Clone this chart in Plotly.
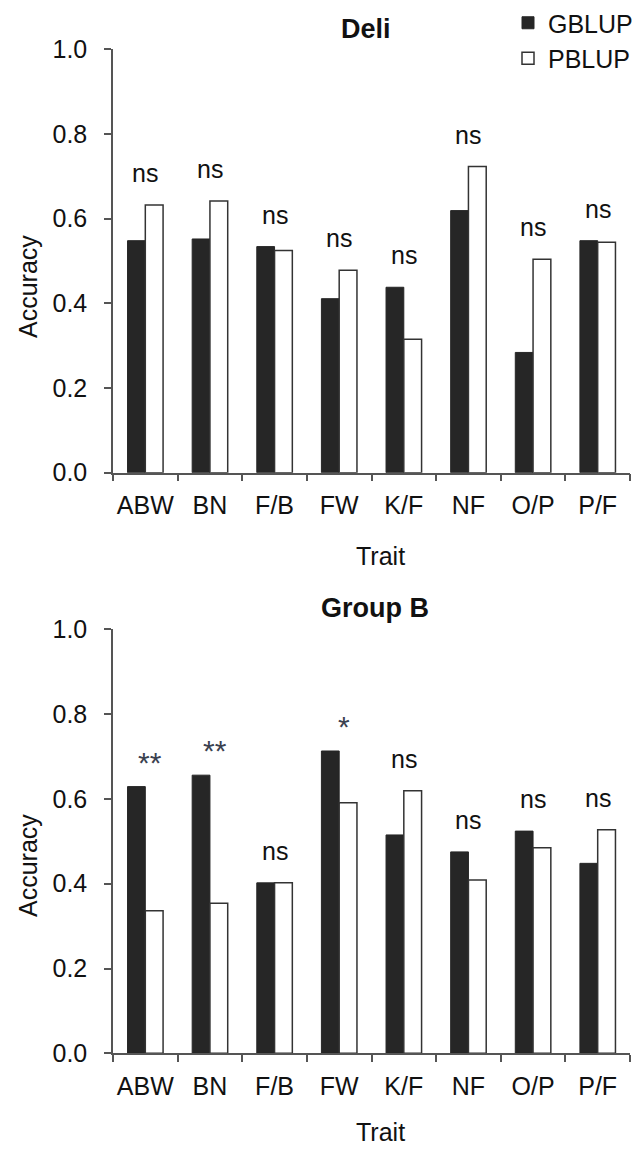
import plotly.graph_objects as go

# Trait categories shared by both panels
traits = ['ABW', 'BN', 'F/B', 'FW', 'K/F', 'NF', 'O/P', 'P/F']

# Deli panel accuracies
deli_gblup = [0.548, 0.552, 0.534, 0.411, 0.438, 0.619, 0.284, 0.548]
deli_pblup = [0.632, 0.642, 0.525, 0.478, 0.315, 0.723, 0.504, 0.544]
deli_sig = ['ns', 'ns', 'ns', 'ns', 'ns', 'ns', 'ns', 'ns']

# Group B panel accuracies
groupb_gblup = [0.629, 0.656, 0.402, 0.713, 0.515, 0.475, 0.524, 0.448]
groupb_pblup = [0.336, 0.354, 0.402, 0.591, 0.619, 0.409, 0.485, 0.527]
groupb_sig = ['**', '**', 'ns', '*', 'ns', 'ns', 'ns', 'ns']

W, H = 635, 1149
FONT = 'Arial, Liberation Sans, sans-serif'
DARK = '#262626'
AXIS = '#555555'


def px_x(px):
    # window pixel -> paper fraction
    return px / W


def px_y(px):
    return 1 - px / H


fig = go.Figure()

panels = [
    ('x', 'y', deli_gblup, deli_pblup, deli_sig, True),
    ('x2', 'y2', groupb_gblup, groupb_pblup, groupb_sig, False),
]

for xa, ya, gb, pb, sig, show in panels:
    fig.add_trace(go.Bar(
        x=traits, y=gb, name='GBLUP', xaxis=xa, yaxis=ya,
        marker=dict(color=DARK, line=dict(color=DARK, width=1)),
        legendgroup='g', showlegend=show,
    ))
    fig.add_trace(go.Bar(
        x=traits, y=pb, name='PBLUP', xaxis=xa, yaxis=ya,
        marker=dict(color='white', line=dict(color='#333333', width=1.5)),
        legendgroup='p', showlegend=show,
    ))
    # significance labels above each pair of bars
    for t, g, p, s in zip(traits, gb, pb, sig):
        is_ns = s == 'ns'
        fig.add_annotation(
            x=t, y=max(g, p), xref=xa, yref=ya,
            text=s, showarrow=False, yanchor='bottom',
            yshift=16 if is_ns else 6,
            xshift=0 if is_ns else 5,
            font=dict(family=FONT, size=25 if is_ns else 30,
                      color='#111111' if is_ns else '#3a4150'),
        )

x_dom = [px_x(113), px_x(630)]
y_doms = {'yaxis': [px_y(472.7), px_y(49.3)], 'yaxis2': [px_y(1053.3), px_y(629.3)]}

xaxis_cfg = dict(
    domain=x_dom, type='category', tickson='boundaries', tickangle=0,
    ticks='outside', ticklen=7, tickwidth=1.5, tickcolor=AXIS,
    showline=True, linewidth=1.5, linecolor=AXIS, automargin=False,
    showgrid=False, zeroline=False, ticklabelstandoff=10,
    tickfont=dict(family=FONT, size=25, color='#111111'),
)
yaxis_cfg = dict(
    range=[0, 1], dtick=0.2, tickformat='.1f',
    ticks='outside', ticklen=7, tickwidth=1.5, tickcolor=AXIS,
    showline=True, linewidth=1.5, linecolor=AXIS, automargin=False,
    showgrid=False, zeroline=False, ticklabelstandoff=12,
    tickfont=dict(family=FONT, size=25, color='#111111'),
)

fig.update_layout(
    xaxis=dict(**xaxis_cfg, anchor='y'),
    xaxis2=dict(**xaxis_cfg, anchor='y2'),
    yaxis=dict(**yaxis_cfg, domain=y_doms['yaxis'], anchor='x'),
    yaxis2=dict(**yaxis_cfg, domain=y_doms['yaxis2'], anchor='x2'),
    barmode='group', bargap=0.45, bargroupgap=0,
    width=W, height=H,
    margin=dict(l=0, r=0, t=0, b=0, pad=0, autoexpand=False),
    paper_bgcolor='white', plot_bgcolor='white',
    font=dict(family=FONT, size=25, color='#111111'),
    legend=dict(
        x=px_x(508), y=1, xanchor='left', yanchor='top',
        bgcolor='rgba(0,0,0,0)', tracegroupgap=0,
        font=dict(family=FONT, size=25, color='#111111'),
    ),
)

# panel titles and axis titles
text_items = [
    ('<b>Deli</b>', 365.5, 28.7, 0, 27),
    ('<b>Group B</b>', 375, 608, 0, 27),
    ('Trait', 380, 556, 0, 25),
    ('Trait', 380, 1132, 0, 25),
    ('Accuracy', 28, 287, -90, 25),
    ('Accuracy', 28, 866, -90, 25),
]
for txt, cx, cy, ang, size in text_items:
    fig.add_annotation(
        x=px_x(cx), y=px_y(cy), xref='paper', yref='paper',
        text=txt, showarrow=False, textangle=ang,
        xanchor='center', yanchor='middle',
        font=dict(family=FONT, size=size, color='#111111'),
    )

# drop the default 8px body margin so the figure fills the window exactly
fig.write_html(
    'out.html',
    config={'displayModeBar': False},
    post_script="document.body.style.margin='0';",
)
